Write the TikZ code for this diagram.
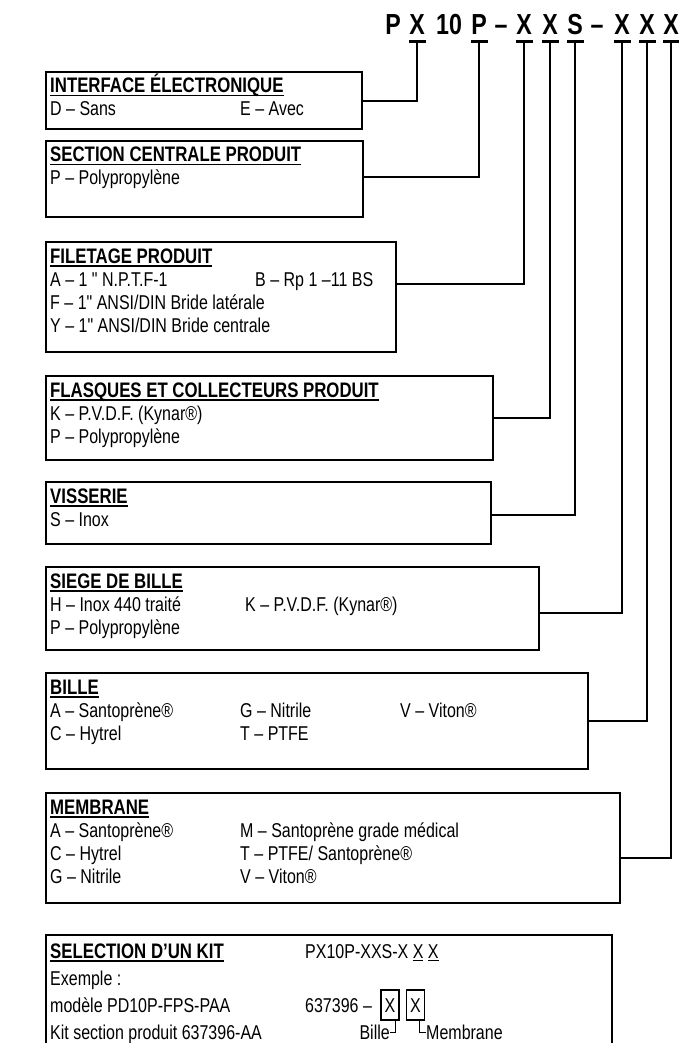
\documentclass[tikz,border=0pt]{standalone}
\usepackage{fontspec}
\setmainfont{Liberation Sans}
\newfontfamily\narrow{Liberation Sans}[FakeStretch=0.8]
\usetikzlibrary{positioning}
\newsavebox\hdbox
\newcommand{\hdline}[1]{\sbox\hdbox{#1}\rlap{\rule[-3.5pt]{\wd\hdbox}{1.8pt}}\usebox\hdbox}
\newcommand{\kitul}[1]{\sbox\hdbox{#1}\rlap{\rule[-3pt]{\wd\hdbox}{1.1pt}}\usebox\hdbox}
\tikzset{
  box/.style={draw, line width=2pt, anchor=north west, inner sep=0pt, outer sep=0pt},
  txt/.style={anchor=base west, inner sep=0pt, font=\fontsize{20}{23}\narrow},
  hd/.style={txt, font=\fontsize{21}{23}\narrow\bfseries},
  code/.style={anchor=base, inner sep=0pt, font=\fontsize{29}{30}\narrow\bfseries},
  ubar/.style={fill, minimum width=17pt, minimum height=3pt, inner sep=0pt, outer sep=0pt},
  conn/.style={line width=2pt},
  kitx/.style={draw, line width=1.5pt, minimum width=18pt, minimum height=30pt, inner sep=0pt,
    font=\fontsize{20}{23}\narrow},
}
\begin{document}
\begin{tikzpicture}[x=1pt, y=-1pt]
  \useasboundingbox (0,0) rectangle (678,1043);

  % model code
  \node[code] (c0) at (393,35) {P};
  \node[code] (c1) at (417,35) {X};
  \node[code] (c2) at (449,35) {10};
  \node[code] (c3) at (479,35) {P};
  \node[code] (c4) at (501,35) {–};
  \node[code] (c5) at (524,35) {X};
  \node[code] (c6) at (550,35) {X};
  \node[code] (c7) at (575,35) {S};
  \node[code] (c8) at (597,35) {–};
  \node[code] (c9) at (622,35) {X};
  \node[code] (c10) at (647,35) {X};
  \node[code] (c11) at (671,35) {X};
  \node[ubar] (u1) at (417,41.5) {};
  \node[ubar] (u2) at (479,41.5) {};
  \node[ubar] (u3) at (524,41.5) {};
  \node[ubar] (u4) at (550,41.5) {};
  \node[ubar] (u5) at (575,41.5) {};
  \node[ubar] (u6) at (622,41.5) {};
  \node[ubar] (u7) at (647,41.5) {};
  \node[ubar] (u8) at (671,41.5) {};

  % option boxes
  \node[box, minimum width=316, minimum height=57] (b1) at (46,72) {};
  \node[hd] at (50,93) {\hdline{INTERFACE ÉLECTRONIQUE}};
  \node[txt] at (50,116) {D – Sans};
  \node[txt] at (240,116) {E – Avec};

  \node[box, minimum width=317, minimum height=76] (b2) at (46,141) {};
  \node[hd] at (50,162) {\hdline{SECTION CENTRALE PRODUIT}};
  \node[txt] at (50,185) {P – Polypropylène};

  \node[box, minimum width=350, minimum height=110] (b3) at (46,242) {};
  \node[hd] at (50,263) {\hdline{FILETAGE PRODUIT}};
  \node[txt] at (50,286) {A – 1 " N.P.T.F-1};
  \node[txt] at (255,286) {B – Rp 1 –11 BS};
  \node[txt] at (50,309) {F – 1" ANSI/DIN Bride latérale};
  \node[txt] at (50,332) {Y – 1" ANSI/DIN Bride centrale};

  \node[box, minimum width=447, minimum height=84] (b4) at (46,376) {};
  \node[hd] at (50,397) {\hdline{FLASQUES ET COLLECTEURS PRODUIT}};
  \node[txt] at (50,420) {K – P.V.D.F. (Kynar®)};
  \node[txt] at (50,443) {P – Polypropylène};

  \node[box, minimum width=445, minimum height=62] (b5) at (46,482) {};
  \node[hd] at (50,503) {\hdline{VISSERIE}};
  \node[txt] at (50,526) {S – Inox};

  \node[box, minimum width=493, minimum height=83] (b6) at (46,567) {};
  \node[hd] at (50,588) {\hdline{SIEGE DE BILLE}};
  \node[txt] at (50,611) {H – Inox 440 traité};
  \node[txt] at (245,611) {K – P.V.D.F. (Kynar®)};
  \node[txt] at (50,634) {P – Polypropylène};

  \node[box, minimum width=542, minimum height=96] (b7) at (46,673) {};
  \node[hd] at (50,694) {\hdline{BILLE}};
  \node[txt] at (50,717) {A – Santoprène®};
  \node[txt] at (240,717) {G – Nitrile};
  \node[txt] at (400,717) {V – Viton®};
  \node[txt] at (50,740) {C – Hytrel};
  \node[txt] at (240,740) {T – PTFE};

  \node[box, minimum width=574, minimum height=110] (b8) at (46,793) {};
  \node[hd] at (50,814) {\hdline{MEMBRANE}};
  \node[txt] at (50,837) {A – Santoprène®};
  \node[txt] at (240,837) {M – Santoprène grade médical};
  \node[txt] at (50,860) {C – Hytrel};
  \node[txt] at (240,860) {T – PTFE/ Santoprène®};
  \node[txt] at (50,883) {G – Nitrile};
  \node[txt] at (240,883) {V – Viton®};

  % connectors to the code
  \draw[conn] (b1.east |- 0,101) -| (u1.south);
  \draw[conn] (b2.east |- 0,177) -| (u2.south);
  \draw[conn] (b3.east |- 0,284) -| (u3.south);
  \draw[conn] (b4.east |- 0,418) -| (u4.south);
  \draw[conn] (b5.east |- 0,515) -| (u5.south);
  \draw[conn] (b6.east |- 0,613) -| (u6.south);
  \draw[conn] (b7.east |- 0,721) -| (u7.south);
  \draw[conn] (b8.east |- 0,858) -| (u8.south);

  % kit selection
  \node[box, minimum width=566, minimum height=125] (kit) at (46,935) {};
  \node[hd] at (50,958) {\hdline{SELECTION D’UN KIT}};
  \node[txt] at (305,958) {PX10P-XXS-X \kitul{X} \kitul{X}};
  \node[txt] at (50,985) {Exemple :};
  \node[txt] at (50,1012) {modèle PD10P-FPS-PAA};
  \node[txt] (k0) at (305,1012) {637396 –};
  \node[kitx, right=8pt of k0] (k1) {X};
  \node[kitx, right=6pt of k1] (k2) {X};
  \node[txt] at (50,1039) {Kit section produit 637396-AA};
  \node[txt, anchor=base east] (bille) at (390,1039) {Bille};
  \node[txt] (memb) at (426,1039) {Membrane};
  \draw ([xshift=5pt]k1.south) |- (bille.east);
  \draw ([xshift=4pt]k2.south) |- (memb.west);
\end{tikzpicture}
\end{document}
